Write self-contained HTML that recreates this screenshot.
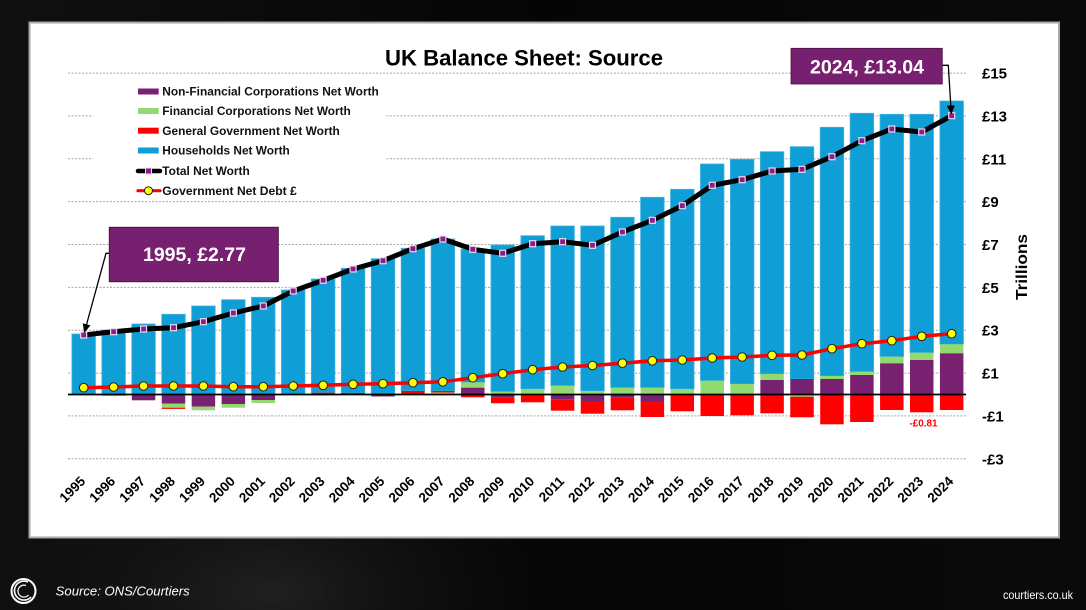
<!DOCTYPE html>
<html>
<head>
<meta charset="utf-8">
<style>
html,body{margin:0;padding:0;background:#000;}
body{width:1086px;height:610px;overflow:hidden;}
svg{display:block;}
text{font-family:"Liberation Sans",Arial,sans-serif;}
</style>
</head>
<body>
<svg width="1086" height="610" viewBox="0 0 1086 610" xmlns="http://www.w3.org/2000/svg">
<defs>
  <radialGradient id="g1" cx="0.25" cy="0.97" r="0.35">
    <stop offset="0" stop-color="#2e2e2e" stop-opacity="0.6"/>
    <stop offset="1" stop-color="#000" stop-opacity="0"/>
  </radialGradient>
  <linearGradient id="g2" x1="0" y1="0" x2="1" y2="0">
    <stop offset="0" stop-color="#101010"/>
    <stop offset="0.5" stop-color="#050505"/>
    <stop offset="1" stop-color="#0a0a0a"/>
  </linearGradient>
  <marker id="sq" markerUnits="userSpaceOnUse" markerWidth="9" markerHeight="9" refX="4.5" refY="4.5">
    <rect x="1.5" y="1.5" width="6" height="6" fill="#8E1C8C" stroke="#EBD7F0" stroke-width="1.2"/>
  </marker>
  <marker id="ci" markerUnits="userSpaceOnUse" markerWidth="11" markerHeight="11" refX="5.5" refY="5.5">
    <circle cx="5.5" cy="5.5" r="4.3" fill="#FFFF00" stroke="#222" stroke-width="1"/>
  </marker>
  <marker id="ah" markerUnits="userSpaceOnUse" markerWidth="10" markerHeight="10" refX="8" refY="5" orient="auto">
    <path d="M0,1 L9,5 L0,9 Z" fill="#000"/>
  </marker>
</defs>

<!-- background -->
<rect x="0" y="0" width="1086" height="610" fill="url(#g2)"/>
<rect x="0" y="0" width="1086" height="610" fill="url(#g1)"/>

<!-- panel -->
<rect x="29.5" y="22.5" width="1029.5" height="515" fill="#fff" stroke="#a8a8a8" stroke-width="2"/>

<!-- gridlines -->
<g stroke="#a6a6a6" stroke-width="1" stroke-dasharray="2,1.5">
  <line x1="68" y1="73.1" x2="966" y2="73.1"/>
  <line x1="68" y1="115.9" x2="966" y2="115.9"/>
  <line x1="68" y1="158.8" x2="966" y2="158.8"/>
  <line x1="68" y1="201.6" x2="966" y2="201.6"/>
  <line x1="68" y1="244.5" x2="966" y2="244.5"/>
  <line x1="68" y1="287.4" x2="966" y2="287.4"/>
  <line x1="68" y1="330.2" x2="966" y2="330.2"/>
  <line x1="68" y1="373.1" x2="966" y2="373.1"/>
  <line x1="68" y1="415.9" x2="966" y2="415.9"/>
  <line x1="68" y1="458.8" x2="966" y2="458.8"/>
</g>

<!-- bars -->
<g stroke-width="0.8">
<g transform="translate(83.7,0)"><rect x="-11.75" y="334" width="23.5" height="60.5" fill="#0F9ED5" stroke="#3fb2e0"/><rect x="-11.75" y="394.5" width="23.5" height="1" fill="#92D96F"/></g>
<g transform="translate(113.63,0)"><rect x="-11.75" y="330" width="23.5" height="64.5" fill="#0F9ED5" stroke="#3fb2e0"/><rect x="-11.75" y="394.5" width="23.5" height="1.5" fill="#92D96F"/></g>
<g transform="translate(143.56,0)"><rect x="-11.75" y="324" width="23.5" height="70.5" fill="#0F9ED5" stroke="#3fb2e0"/><rect x="-11.75" y="394.5" width="23.5" height="5.8" fill="#782170"/></g>
<g transform="translate(173.49,0)"><rect x="-11.75" y="314.3" width="23.5" height="80.2" fill="#0F9ED5" stroke="#3fb2e0"/><rect x="-11.75" y="394.5" width="23.5" height="9.2" fill="#782170"/><rect x="-11.75" y="403.7" width="23.5" height="4" fill="#92D96F"/><rect x="-11.75" y="407.7" width="23.5" height="1.2" fill="#FF0000"/></g>
<g transform="translate(203.42,0)"><rect x="-11.75" y="306" width="23.5" height="88.5" fill="#0F9ED5" stroke="#3fb2e0"/><rect x="-11.75" y="394.5" width="23.5" height="12.2" fill="#782170"/><rect x="-11.75" y="406.7" width="23.5" height="3.6" fill="#92D96F"/></g>
<g transform="translate(233.35,0)"><rect x="-11.75" y="299.7" width="23.5" height="94.8" fill="#0F9ED5" stroke="#3fb2e0"/><rect x="-11.75" y="394.5" width="23.5" height="9.5" fill="#782170"/><rect x="-11.75" y="404" width="23.5" height="3.7" fill="#92D96F"/></g>
<g transform="translate(263.28,0)"><rect x="-11.75" y="297.3" width="23.5" height="97.2" fill="#0F9ED5" stroke="#3fb2e0"/><rect x="-11.75" y="394.5" width="23.5" height="5.5" fill="#782170"/><rect x="-11.75" y="400" width="23.5" height="3" fill="#92D96F"/></g>
<g transform="translate(293.21,0)"><rect x="-11.75" y="290" width="23.5" height="104.5" fill="#0F9ED5" stroke="#3fb2e0"/><rect x="-11.75" y="394.5" width="23.5" height="1" fill="#92D96F"/></g>
<g transform="translate(323.14,0)"><rect x="-11.75" y="279" width="23.5" height="113.7" fill="#0F9ED5" stroke="#3fb2e0"/><rect x="-11.75" y="392.7" width="23.5" height="1.8" fill="#FF0000"/><rect x="-11.75" y="394.5" width="23.5" height="1" fill="#92D96F"/></g>
<g transform="translate(353.07,0)"><rect x="-11.75" y="268.3" width="23.5" height="124.7" fill="#0F9ED5" stroke="#3fb2e0"/><rect x="-11.75" y="393" width="23.5" height="1.5" fill="#FF0000"/></g>
<g transform="translate(383,0)"><rect x="-11.75" y="258.7" width="23.5" height="135.8" fill="#0F9ED5" stroke="#3fb2e0"/><rect x="-11.75" y="394.5" width="23.5" height="2" fill="#782170"/></g>
<g transform="translate(412.93,0)"><rect x="-11.75" y="248.3" width="23.5" height="142.7" fill="#0F9ED5" stroke="#3fb2e0"/><rect x="-11.75" y="391" width="23.5" height="3.5" fill="#FF0000"/></g>
<g transform="translate(442.86,0)"><rect x="-11.75" y="239" width="23.5" height="152" fill="#0F9ED5" stroke="#3fb2e0"/><rect x="-11.75" y="391" width="23.5" height="1.5" fill="#FF0000"/><rect x="-11.75" y="392.5" width="23.5" height="2" fill="#92D96F"/></g>
<g transform="translate(472.79,0)"><rect x="-11.75" y="249" width="23.5" height="133.3" fill="#0F9ED5" stroke="#3fb2e0"/><rect x="-11.75" y="382.3" width="23.5" height="5.4" fill="#92D96F"/><rect x="-11.75" y="387.7" width="23.5" height="6.8" fill="#782170"/><rect x="-11.75" y="394.5" width="23.5" height="2.8" fill="#FF0000"/></g>
<g transform="translate(502.72,0)"><rect x="-11.75" y="245" width="23.5" height="146.7" fill="#0F9ED5" stroke="#3fb2e0"/><rect x="-11.75" y="391.7" width="23.5" height="2.8" fill="#92D96F"/><rect x="-11.75" y="394.5" width="23.5" height="3.2" fill="#782170"/><rect x="-11.75" y="397.7" width="23.5" height="5.6" fill="#FF0000"/></g>
<g transform="translate(532.65,0)"><rect x="-11.75" y="235.7" width="23.5" height="153.3" fill="#0F9ED5" stroke="#3fb2e0"/><rect x="-11.75" y="389" width="23.5" height="5.5" fill="#92D96F"/><rect x="-11.75" y="394.5" width="23.5" height="7.8" fill="#FF0000"/></g>
<g transform="translate(562.58,0)"><rect x="-11.75" y="226" width="23.5" height="159.7" fill="#0F9ED5" stroke="#3fb2e0"/><rect x="-11.75" y="385.7" width="23.5" height="8.8" fill="#92D96F"/><rect x="-11.75" y="394.5" width="23.5" height="4.8" fill="#782170"/><rect x="-11.75" y="399.3" width="23.5" height="11.4" fill="#FF0000"/></g>
<g transform="translate(592.51,0)"><rect x="-11.75" y="226" width="23.5" height="165" fill="#0F9ED5" stroke="#3fb2e0"/><rect x="-11.75" y="391" width="23.5" height="3.5" fill="#92D96F"/><rect x="-11.75" y="394.5" width="23.5" height="6.5" fill="#782170"/><rect x="-11.75" y="401" width="23.5" height="12.7" fill="#FF0000"/></g>
<g transform="translate(622.44,0)"><rect x="-11.75" y="217.3" width="23.5" height="170.4" fill="#0F9ED5" stroke="#3fb2e0"/><rect x="-11.75" y="387.7" width="23.5" height="6.8" fill="#92D96F"/><rect x="-11.75" y="394.5" width="23.5" height="3.2" fill="#782170"/><rect x="-11.75" y="397.7" width="23.5" height="12.6" fill="#FF0000"/></g>
<g transform="translate(652.37,0)"><rect x="-11.75" y="197.3" width="23.5" height="190.4" fill="#0F9ED5" stroke="#3fb2e0"/><rect x="-11.75" y="387.7" width="23.5" height="6.8" fill="#92D96F"/><rect x="-11.75" y="394.5" width="23.5" height="6.5" fill="#782170"/><rect x="-11.75" y="401" width="23.5" height="16" fill="#FF0000"/></g>
<g transform="translate(682.3,0)"><rect x="-11.75" y="189.3" width="23.5" height="199.7" fill="#0F9ED5" stroke="#3fb2e0"/><rect x="-11.75" y="389" width="23.5" height="5.5" fill="#92D96F"/><rect x="-11.75" y="394.5" width="23.5" height="16.8" fill="#FF0000"/></g>
<g transform="translate(712.23,0)"><rect x="-11.75" y="164" width="23.5" height="216.7" fill="#0F9ED5" stroke="#3fb2e0"/><rect x="-11.75" y="380.7" width="23.5" height="13.8" fill="#92D96F"/><rect x="-11.75" y="394.5" width="23.5" height="21.5" fill="#FF0000"/></g>
<g transform="translate(742.16,0)"><rect x="-11.75" y="159.3" width="23.5" height="224.7" fill="#0F9ED5" stroke="#3fb2e0"/><rect x="-11.75" y="384" width="23.5" height="10.5" fill="#92D96F"/><rect x="-11.75" y="394.5" width="23.5" height="20.8" fill="#FF0000"/></g>
<g transform="translate(772.09,0)"><rect x="-11.75" y="151.7" width="23.5" height="222.3" fill="#0F9ED5" stroke="#3fb2e0"/><rect x="-11.75" y="374" width="23.5" height="6" fill="#92D96F"/><rect x="-11.75" y="380" width="23.5" height="14.5" fill="#782170"/><rect x="-11.75" y="394.5" width="23.5" height="18.8" fill="#FF0000"/></g>
<g transform="translate(802.02,0)"><rect x="-11.75" y="146.7" width="23.5" height="232.3" fill="#0F9ED5" stroke="#3fb2e0"/><rect x="-11.75" y="379" width="23.5" height="15.5" fill="#782170"/><rect x="-11.75" y="394.5" width="23.5" height="2.2" fill="#92D96F"/><rect x="-11.75" y="396.7" width="23.5" height="20.6" fill="#FF0000"/></g>
<g transform="translate(831.95,0)"><rect x="-11.75" y="127.3" width="23.5" height="248.7" fill="#0F9ED5" stroke="#3fb2e0"/><rect x="-11.75" y="376" width="23.5" height="3" fill="#92D96F"/><rect x="-11.75" y="379" width="23.5" height="15.5" fill="#782170"/><rect x="-11.75" y="394.5" width="23.5" height="29.8" fill="#FF0000"/></g>
<g transform="translate(861.88,0)"><rect x="-11.75" y="113.3" width="23.5" height="258.4" fill="#0F9ED5" stroke="#3fb2e0"/><rect x="-11.75" y="371.7" width="23.5" height="3.3" fill="#92D96F"/><rect x="-11.75" y="375" width="23.5" height="19.5" fill="#782170"/><rect x="-11.75" y="394.5" width="23.5" height="27.5" fill="#FF0000"/></g>
<g transform="translate(891.81,0)"><rect x="-11.75" y="114.3" width="23.5" height="242.4" fill="#0F9ED5" stroke="#3fb2e0"/><rect x="-11.75" y="356.7" width="23.5" height="6.6" fill="#92D96F"/><rect x="-11.75" y="363.3" width="23.5" height="31.2" fill="#782170"/><rect x="-11.75" y="394.5" width="23.5" height="15.5" fill="#FF0000"/></g>
<g transform="translate(921.74,0)"><rect x="-11.75" y="114.3" width="23.5" height="238.4" fill="#0F9ED5" stroke="#3fb2e0"/><rect x="-11.75" y="352.7" width="23.5" height="7.3" fill="#92D96F"/><rect x="-11.75" y="360" width="23.5" height="34.5" fill="#782170"/><rect x="-11.75" y="394.5" width="23.5" height="17.8" fill="#FF0000"/></g>
<g transform="translate(951.67,0)"><rect x="-11.75" y="101" width="23.5" height="243.3" fill="#0F9ED5" stroke="#3fb2e0"/><rect x="-11.75" y="344.3" width="23.5" height="9" fill="#92D96F"/><rect x="-11.75" y="353.3" width="23.5" height="41.2" fill="#782170"/><rect x="-11.75" y="394.5" width="23.5" height="15.5" fill="#FF0000"/></g>
</g>

<!-- zero line -->
<line x1="68" y1="394.5" x2="966" y2="394.5" stroke="#000" stroke-width="1.8"/>

<!-- legend -->
<rect x="93" y="80" width="292" height="118" fill="#fff"/>
<g font-weight="bold" font-size="11.5" fill="#111">
  <rect x="138" y="88.5" width="20.7" height="6" fill="#782170"/>
  <text x="162.3" y="95.6" textLength="216.5" lengthAdjust="spacingAndGlyphs">Non-Financial Corporations Net Worth</text>
  <rect x="138" y="108" width="20.7" height="6" fill="#92D96F"/>
  <text x="162.3" y="115.1" textLength="188.5" lengthAdjust="spacingAndGlyphs">Financial Corporations Net Worth</text>
  <rect x="138" y="127.7" width="20.7" height="6" fill="#FF0000"/>
  <text x="162.3" y="134.8" textLength="177.5" lengthAdjust="spacingAndGlyphs">General Government Net Worth</text>
  <rect x="138" y="147.5" width="20.7" height="6" fill="#0F9ED5"/>
  <text x="162.3" y="154.6" textLength="127.5" lengthAdjust="spacingAndGlyphs">Households Net Worth</text>
  <line x1="138" y1="171" x2="160" y2="171" stroke="#000" stroke-width="4.5" stroke-linecap="round"/>
  <rect x="145.5" y="168" width="6" height="6" fill="#8E1C8C" stroke="#EBD7F0" stroke-width="1"/>
  <text x="162.3" y="175.1" textLength="87.5" lengthAdjust="spacingAndGlyphs">Total Net Worth</text>
  <line x1="138" y1="190.7" x2="160" y2="190.7" stroke="#FF0000" stroke-width="3.2" stroke-linecap="round"/>
  <circle cx="148.5" cy="190.7" r="4" fill="#FFFF00" stroke="#222" stroke-width="1"/>
  <text x="162.3" y="194.8" textLength="134.5" lengthAdjust="spacingAndGlyphs">Government Net Debt  £</text>
</g>

<!-- total net worth line -->
<polyline fill="none" stroke="#000" stroke-width="5" stroke-linejoin="round" marker-start="url(#sq)" marker-mid="url(#sq)" marker-end="url(#sq)"
 points="83.7,335 113.63,331.7 143.56,329 173.49,327.7 203.42,321.7 233.35,313 263.28,306 293.21,291 323.14,280.3 353.07,269 383,260.7 412.93,248.7 442.86,239 472.79,249.3 502.72,253.3 532.65,243.7 562.58,241.7 592.51,245.3 622.44,232 652.37,220.3 682.3,205.7 712.23,185.3 742.16,179.7 772.09,171 802.02,169.3 831.95,156.7 861.88,140.7 891.81,129 921.74,132 951.67,115.7"/>

<!-- gov net debt line -->
<polyline fill="none" stroke="#FF0000" stroke-width="3.5" stroke-linejoin="round" marker-start="url(#ci)" marker-mid="url(#ci)" marker-end="url(#ci)"
 points="83.7,387.7 113.63,387 143.56,386 173.49,386 203.42,386 233.35,386.7 263.28,386.7 293.21,386 323.14,385.3 353.07,384.3 383,383.7 412.93,382.7 442.86,381.8 472.79,377.7 502.72,373.7 532.65,369.7 562.58,367 592.51,365.5 622.44,363.2 652.37,360.8 682.3,360 712.23,358 742.16,357 772.09,355.3 802.02,355 831.95,348.7 861.88,343.7 891.81,340.7 921.74,336.3 951.67,333.7"/>

<!-- -0.81 label -->
<text x="923.5" y="426.3" font-size="10" font-weight="bold" fill="#FF0000" text-anchor="middle" textLength="28" lengthAdjust="spacingAndGlyphs">-£0.81</text>

<!-- title -->
<text x="385" y="65.5" font-size="22" font-weight="bold" fill="#000" textLength="278" lengthAdjust="spacingAndGlyphs">UK Balance Sheet: Source</text>

<!-- callout 1995 -->
<path d="M109.3,253.3 L106,253.3 L84.5,332" fill="none" stroke="#000" stroke-width="1.3" marker-end="url(#ah)"/>
<rect x="109.3" y="227.3" width="169" height="54.4" fill="#77206F" stroke="#4a1446" stroke-width="1"/>
<text x="194.5" y="261" font-size="19.5" font-weight="bold" fill="#fff" text-anchor="middle" textLength="103" lengthAdjust="spacingAndGlyphs">1995, £2.77</text>

<!-- callout 2024 -->
<path d="M942.3,65.3 L948.3,65.3 L951.3,113.5" fill="none" stroke="#000" stroke-width="1.3" marker-end="url(#ah)"/>
<rect x="791" y="48.3" width="151.3" height="35.7" fill="#77206F" stroke="#4a1446" stroke-width="0.8"/>
<text x="867" y="73.5" font-size="19.5" font-weight="bold" fill="#fff" text-anchor="middle" textLength="114" lengthAdjust="spacingAndGlyphs">2024, £13.04</text>

<!-- y axis labels -->
<g font-size="15" font-weight="bold" fill="#000">
  <text x="982" y="78.6">£15</text>
  <text x="982" y="121.4">£13</text>
  <text x="982" y="164.3">£11</text>
  <text x="982" y="207.1">£9</text>
  <text x="982" y="250">£7</text>
  <text x="982" y="292.9">£5</text>
  <text x="982" y="335.7">£3</text>
  <text x="982" y="378.6">£1</text>
  <text x="982" y="421.4">-£1</text>
  <text x="982" y="464.3">-£3</text>
</g>
<text transform="translate(1027,267) rotate(-90)" font-size="16" font-weight="bold" fill="#000" text-anchor="middle" textLength="66" lengthAdjust="spacingAndGlyphs">Trillions</text>

<!-- x axis labels -->
<g font-size="13.5" font-weight="bold" fill="#000" text-anchor="end">
  <text transform="translate(86.2,482) rotate(-45)">1995</text>
  <text transform="translate(116.1,482) rotate(-45)">1996</text>
  <text transform="translate(146.1,482) rotate(-45)">1997</text>
  <text transform="translate(176,482) rotate(-45)">1998</text>
  <text transform="translate(205.9,482) rotate(-45)">1999</text>
  <text transform="translate(235.9,482) rotate(-45)">2000</text>
  <text transform="translate(265.8,482) rotate(-45)">2001</text>
  <text transform="translate(295.7,482) rotate(-45)">2002</text>
  <text transform="translate(325.6,482) rotate(-45)">2003</text>
  <text transform="translate(355.6,482) rotate(-45)">2004</text>
  <text transform="translate(385.5,482) rotate(-45)">2005</text>
  <text transform="translate(415.4,482) rotate(-45)">2006</text>
  <text transform="translate(445.4,482) rotate(-45)">2007</text>
  <text transform="translate(475.3,482) rotate(-45)">2008</text>
  <text transform="translate(505.2,482) rotate(-45)">2009</text>
  <text transform="translate(535.2,482) rotate(-45)">2010</text>
  <text transform="translate(565.1,482) rotate(-45)">2011</text>
  <text transform="translate(595,482) rotate(-45)">2012</text>
  <text transform="translate(624.9,482) rotate(-45)">2013</text>
  <text transform="translate(654.9,482) rotate(-45)">2014</text>
  <text transform="translate(684.8,482) rotate(-45)">2015</text>
  <text transform="translate(714.7,482) rotate(-45)">2016</text>
  <text transform="translate(744.7,482) rotate(-45)">2017</text>
  <text transform="translate(774.6,482) rotate(-45)">2018</text>
  <text transform="translate(804.5,482) rotate(-45)">2019</text>
  <text transform="translate(834.5,482) rotate(-45)">2020</text>
  <text transform="translate(864.4,482) rotate(-45)">2021</text>
  <text transform="translate(894.3,482) rotate(-45)">2022</text>
  <text transform="translate(924.2,482) rotate(-45)">2023</text>
  <text transform="translate(954.2,482) rotate(-45)">2024</text>
</g>

<!-- footer -->
<circle cx="23.5" cy="591" r="12" fill="none" stroke="#fff" stroke-width="2"/>
<path d="M28,582 A9.5,9.5 0 1 0 31,597" fill="none" stroke="#fff" stroke-width="1.6"/>
<path d="M26,585.5 A6,6 0 1 0 28.5,595" fill="none" stroke="#fff" stroke-width="1.2"/>
<text x="55.7" y="595.5" font-size="13" font-style="italic" fill="#fff" textLength="134" lengthAdjust="spacingAndGlyphs">Source: ONS/Courtiers</text>
<text x="1003" y="599" font-size="12" fill="#fff" textLength="70" lengthAdjust="spacingAndGlyphs">courtiers.co.uk</text>
</svg>
</body>
</html>
